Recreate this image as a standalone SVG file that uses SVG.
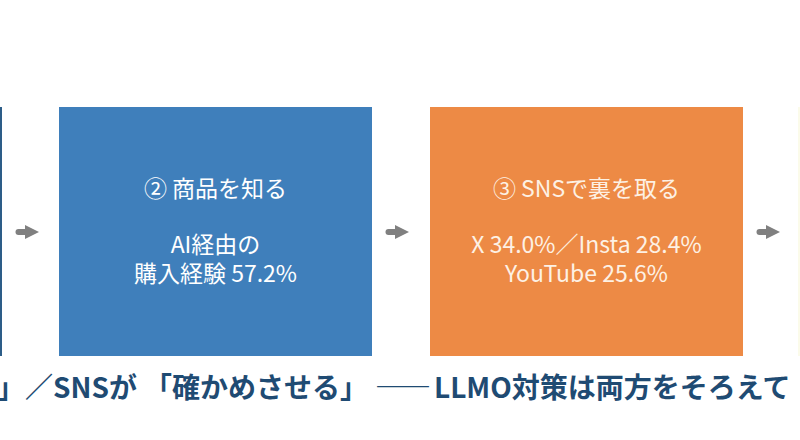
<svg xmlns="http://www.w3.org/2000/svg" width="800" height="440" viewBox="0 0 800 440">
<defs>
<style>
.box-text{font-family:"Noto Sans CJK JP","Noto Sans",sans-serif;font-size:23px;text-anchor:middle}
.caption{font-family:"Noto Sans CJK JP","Noto Sans",sans-serif;font-size:28px;font-weight:700;fill:#1f4b73}
.conn{stroke:#808080;stroke-width:6;stroke-linecap:round;fill:none}
</style>
<marker id="head" markerUnits="userSpaceOnUse" markerWidth="14" markerHeight="14" refX="0" refY="7" orient="auto">
<path d="M0,0 L14,7 L0,14 Z" fill="#808080"/>
</marker>
</defs>
<rect width="800" height="440" fill="#ffffff"/>
<g id="node1">
<rect x="-311" y="107" width="313" height="249" fill="#2d5d88"/>
</g>
<g id="node2">
<rect x="59" y="107" width="313" height="249" fill="#3f7fbb"/>
<text class="box-text" x="215.5" y="197" fill="#ffffff">② 商品を知る</text>
<text class="box-text" x="215.5" y="253" fill="#ffffff">AI経由の</text>
<text class="box-text" x="215.5" y="282" fill="#ffffff">購入経験 57.2%</text>
</g>
<g id="node3">
<rect x="430" y="107" width="313" height="249" fill="#ed8a45"/>
<text class="box-text" x="586.5" y="197" fill="#fdf1e4">③ SNSで裏を取る</text>
<text class="box-text" x="586.5" y="253" fill="#fdf1e4">X 34.0%／Insta 28.4%</text>
<text class="box-text" x="586.5" y="282" fill="#fdf1e4">YouTube 25.6%</text>
</g>
<g id="node4">
<rect x="798" y="107" width="313" height="249" fill="#fbfbea"/>
</g>
<g id="connectors">
<line class="conn" x1="18.5" y1="232" x2="25" y2="232" marker-end="url(#head)"/>
<line class="conn" x1="388.5" y1="232" x2="395" y2="232" marker-end="url(#head)"/>
<line class="conn" x1="759.5" y1="232" x2="766" y2="232" marker-end="url(#head)"/>
</g>
<text class="caption" y="398"><tspan x="-3">」／SNSが</tspan><tspan x="144">「確かめさせる」</tspan><tspan x="375">――</tspan><tspan x="434">LLMO対策は両方をそろえて</tspan></text>
</svg>
